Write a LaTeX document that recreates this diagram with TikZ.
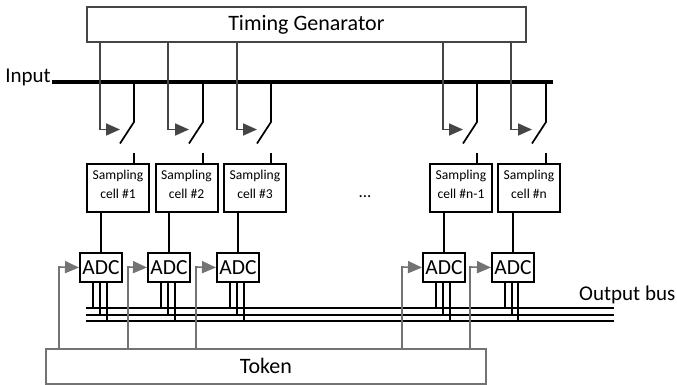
\documentclass[tikz,border=0pt]{standalone}
\usepackage{fontspec}
\setmainfont{Carlito}
\usetikzlibrary{arrows.meta}
\definecolor{gline}{gray}{0.27}
\definecolor{tline}{gray}{0.45}
\tikzset{
 x=1pt,y=-1pt,
 bigbox/.style={draw=#1,line width=1.7pt,fill=white,inner sep=0pt,anchor=north west,font=\fontsize{22}{24}\selectfont},
 cellbox/.style={draw=black,line width=2pt,fill=white,inner sep=0pt,anchor=north west,minimum width=62pt,minimum height=48pt,align=center,font=\fontsize{13.6}{19}\selectfont},
 adcbox/.style={draw=black,line width=2pt,fill=white,inner sep=0pt,anchor=north west,minimum width=42pt,minimum height=29pt,font=\fontsize{21.5}{24}\selectfont},
 timing/.style={draw=gline,line width=1.7pt},
 tokenl/.style={draw=tline,line width=1.6pt},
 tiparrow/.style={-{Triangle[length=14pt,width=12pt]}},
 wire/.style={draw=black,line width=1.4pt},
 sw/.style={draw=black,line width=1.7pt},
 lab/.style={inner sep=0pt,font=\fontsize{21}{23}\selectfont}
}
\begin{document}
\begin{tikzpicture}
\useasboundingbox (0,0) rectangle (677,384);
\fill[white] (0,0) rectangle (677,384);
% Bus
\node[lab,anchor=east] (input) at (51,77) {Input};
\coordinate (busL) at (52,82);
\coordinate (busR) at (553,82);
\draw[black,line width=3.4pt] (busL) -- (busR);
% Output bus lines
\coordinate (o1L) at (86,308); \coordinate (o1R) at (614,308);
\coordinate (o2L) at (86,315); \coordinate (o2R) at (614,315);
\coordinate (o3L) at (86,321); \coordinate (o3R) at (614,321);
\draw[wire] (o1L)--(o1R);
\draw[wire] (o2L)--(o2R);
\draw[wire] (o3L)--(o3R);
% Top / bottom boxes
\node[bigbox=gline,minimum width=439pt,minimum height=35pt] (tg) at (86,6) {\raisebox{1pt}{Timing Genarator}};
\node[bigbox=tline,minimum width=440pt,minimum height=35pt] (tok) at (45,348) {\raisebox{1pt}{Token}};
\node[lab,anchor=west] (ob) at (579,295) {Output bus};
\node[font=\fontsize{17}{19}\selectfont,inner sep=0pt] (dots) at (365,197) {...};
% Columns: timing x, tap x, cell x, adc x, token x, legs, label
\foreach \n/\g/\t/\c/\a/\k/\la/\lb/\lc/\txt in {
 1/100/134/86/79/59/93/100/107/{cell \#1},
 2/168/203/154.5/147/128/161/168/175/{cell \#2},
 3/237/271/223/216/196/230/237/244/{cell \#3},
 4/443/477/429/422/402/436/443/450/{cell \#n-1},
 5/511/546/497/491/470/505/512/518/{cell \#n}}{
  \node[cellbox] (c\n) at (\c,163) {Sampling\\\txt\rule[-8pt]{0pt}{8pt}};
  \node[adcbox] (a\n) at (\a,252) {ADC};
  % timing line to the switch
  \coordinate (tt\n) at (\g,41);
  \coordinate (sa\n) at (\t-14,129.5);
  \draw[timing,tiparrow] (tt\n) -- (\g,129.5) -- (sa\n);
  % switch
  \coordinate (st\n) at (\t,82);
  \coordinate (sk\n) at (\t,122);
  \coordinate (se\n) at (\t-14,143.5);
  \coordinate (sb\n) at (\t,153);
  \draw[sw] (st\n) -- (sk\n) -- (se\n);
  \draw[wire] (sb\n) -- (\t,163);
  % cell to adc
  \draw[wire,line width=1.5pt] (a\n.north |- c\n.south) -- (a\n.north);
  % legs
  \draw[wire,line width=1.7pt] (\la,281) -- (\la,308);
  \draw[wire,line width=1.7pt] (\lb,281) -- (\lb,315);
  \draw[wire,line width=1.7pt] (\lc,281) -- (\lc,321);
  % token
  \coordinate (kt\n) at (\k,348);
  \draw[tokenl,tiparrow] (kt\n) -- (\k,267) -- (a\n.west);
}
\end{tikzpicture}
\end{document}
